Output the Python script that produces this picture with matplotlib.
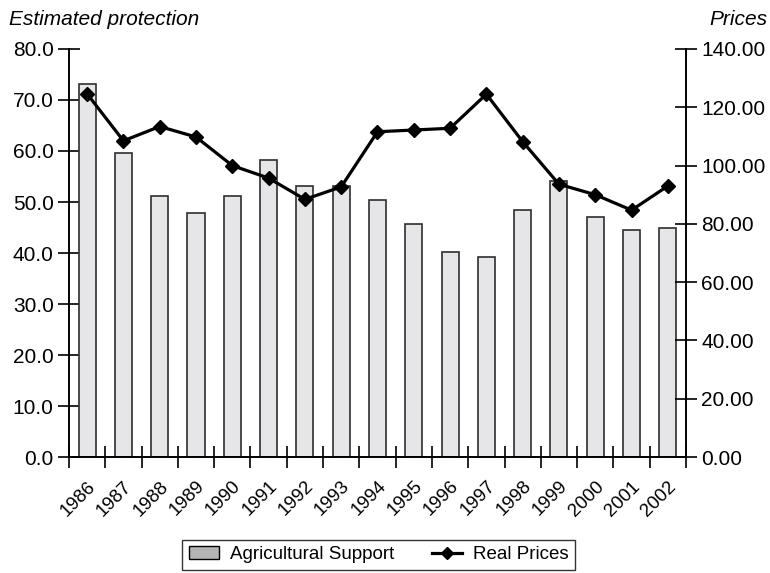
import numpy as np
import matplotlib
matplotlib.use("Agg")
import matplotlib.pyplot as plt
from matplotlib.patches import Patch
from matplotlib.lines import Line2D

plt.rcParams['font.family'] = ['Liberation Sans', 'DejaVu Sans']

years = ["1986", "1987", "1988", "1989", "1990", "1991", "1992", "1993", "1994",
         "1995", "1996", "1997", "1998", "1999", "2000", "2001", "2002"]
# estimated protection (left axis)
support = [73.1, 59.7, 51.2, 47.8, 51.1, 58.2, 53.2, 53.1, 50.4,
           45.6, 40.2, 39.2, 48.4, 54.1, 47.1, 44.6, 45.0]
# real prices (right axis)
prices = [124.6, 108.5, 113.4, 109.8, 100.0, 95.7, 88.4, 92.7, 111.6,
          112.2, 112.8, 124.5, 108.2, 93.6, 90.0, 84.7, 93.0]

fig = plt.figure(figsize=(7.7, 5.73), dpi=100)
ax = fig.add_axes([0.0896, 0.2024, 0.8013, 0.7121])
ax2 = ax.twinx()

x = np.arange(len(years))
ax.bar(x, support, width=0.47, color="#e6e6e8", edgecolor="#2e2e2e", linewidth=1.2, zorder=2)
ax2.plot(x, prices, color="black", lw=2.3, marker="D", ms=7, zorder=3)

ax.set_xlim(-0.5, len(years) - 0.5)
ax.set_ylim(0, 80)
ax2.set_ylim(0, 140)

ax.set_yticks(np.arange(0, 81, 10))
ax.set_yticklabels([f"{v:.1f}" for v in np.arange(0, 81, 10)])
ax2.set_yticks(np.arange(0, 141, 20))
ax2.set_yticklabels([f"{v:.2f}" for v in np.arange(0, 141, 20)])

# ticks at the category boundaries, labels under the bars
ax.set_xticks(np.arange(-0.5, len(years)), labels=[])
ax.set_xticks(x, labels=years, minor=True)
ax.tick_params(axis="x", which="minor", length=0, pad=15)
for lab in ax.get_xticklabels(minor=True):
    lab.set_rotation(45)
    lab.set_ha("right")
    lab.set_rotation_mode("anchor")

fs = 15
ax.tick_params(axis="x", which="major", direction="inout", length=16, width=1.2)
ax.tick_params(axis="y", direction="inout", length=16, width=1.2, labelsize=fs, pad=3)
ax2.tick_params(axis="y", direction="inout", length=16, width=1.2, labelsize=fs, pad=3)
ax.tick_params(axis="x", which="minor", labelsize=13.5)

for a in (ax, ax2):
    a.spines["top"].set_visible(False)
    for s in ("left", "right", "bottom"):
        a.spines[s].set_linewidth(1.2)

fig.text(0.012, 0.956, "Estimated protection", fontsize=fs, style="italic", ha="left", va="baseline")
fig.text(0.997, 0.956, "Prices", fontsize=fs, style="italic", ha="right", va="baseline")

handles = [Patch(facecolor="#b4b4b4", edgecolor="black", linewidth=1.0),
           Line2D([], [], color="black", lw=2.3, marker="D", ms=6)]
leg = fig.legend(handles, ["Agricultural Support", "Real Prices"], loc="center",
                 bbox_to_anchor=(0.492, 0.032), ncol=2, fontsize=13.5,
                 frameon=True, fancybox=False, edgecolor="black", borderpad=0.35,
                 columnspacing=2.0, handlelength=1.6, handletextpad=0.6)
leg.get_frame().set_linewidth(1.0)

fig.savefig("out.png", dpi=100)
